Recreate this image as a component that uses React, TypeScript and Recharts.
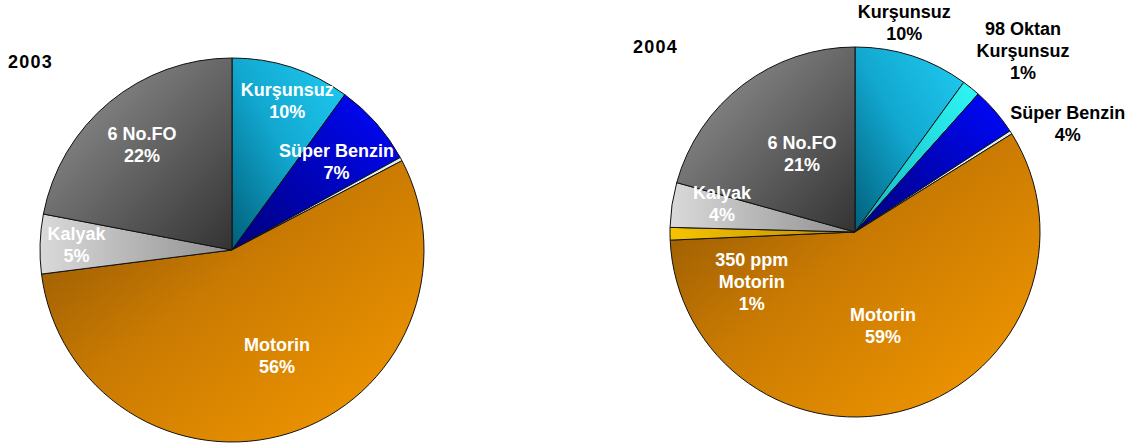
import React from "react";
import { PieChart, Pie, Cell } from "recharts";

// ---- Data ----
const names2003 = ["Kurşunsuz", "Süper Benzin", "", "Motorin", "Kalyak", "6 No.FO"];
const values2003 = [10, 7, 0.3, 55.7, 5, 22];
const pctLabels2003 = ["10%", "7%", "", "56%", "5%", "22%"];

const names2004 = ["Kurşunsuz", "98 Oktan\nKurşunsuz", "Süper Benzin", "", "Motorin", "350 ppm\nMotorin", "Kalyak", "6 No.FO"];
const values2004 = [10, 1.6, 4.2, 0.3, 58.2, 1.1, 3.9, 20.7];
const pctLabels2004 = ["10%", "1%", "4%", "", "59%", "1%", "4%", "21%"];

// ---- Styles ----
const fills2003 = ["url(#gKur)", "url(#gSup)", "#d8eef0", "url(#gMot)", "url(#gKal)", "url(#gFO)"];
const fills2004 = ["url(#gKur)", "url(#g98)", "url(#gSup)", "#d8eef0", "url(#gMot)", "url(#g350)", "url(#gKal)", "url(#gFO)"];
// label placement: [radius factor, angle nudge (deg, clockwise), text color]
const layout2003: [number, number, string][] = [
  [0.83, 2.3, "#fff"], [0.71, 1.4, "#fff"], [0, 0, "#fff"], [0.6, -5.5, "#fff"], [0.81, 0, "#fff"], [0.72, -1, "#fff"],
];
const layout2004: [number, number, string][] = [
  [1.16, -4.7, "#000"], [1.335, 4, "#000"], [1.29, 13.7, "#000"], [0, 0, "#000"],
  [0.53, 0.7, "#fff"], [0.62, -25.2, "#fff"], [0.735, 3.4, "#fff"], [0.51, 3.1, "#fff"],
];

const FONT = "'Liberation Sans', Arial, sans-serif";

const build = (names: string[], values: number[], pcts: string[]) =>
  names.map((n, i) => ({ name: n, value: values[i], pct: pcts[i] }));

const data2003 = build(names2003, values2003, pctLabels2003);
const data2004 = build(names2004, values2004, pctLabels2004);

const makeLabel = (layout: [number, number, string][], data: { name: string; pct: string }[]) => (props: any) => {
  const { cx, cy, midAngle, outerRadius, index } = props;
  const d = data[index];
  if (!d || !d.pct) return null;
  const [rf, da, color] = layout[index];
  const theta = ((90 - midAngle + da) * Math.PI) / 180;
  const R = outerRadius * rf;
  const x = cx + R * Math.sin(theta);
  const y = cy - R * Math.cos(theta);
  const lines = [...d.name.split("\n"), d.pct];
  const lh = 22;
  const y0 = y - ((lines.length - 1) * lh) / 2;
  return (
    <text
      x={x}
      y={y0}
      textAnchor="middle"
      dominantBaseline="central"
      fill={color}
      fontFamily={FONT}
      fontWeight="bold"
      fontSize={18}
    >
      {lines.map((l, i) => (
        <tspan key={i} x={x} y={y0 + i * lh}>
          {l}
        </tspan>
      ))}
    </text>
  );
};

export default function App() {
  return (
    <div style={{ position: "absolute", left: 0, top: 0, width: 1134, height: 445, background: "#fff" }}>
      <PieChart width={1134} height={445} margin={{ top: 0, right: 0, bottom: 0, left: 0 }}>
        <defs>
          <linearGradient id="gMot" x1="0" y1="0" x2="1" y2="1">
            <stop offset="0%" stopColor="#875004" />
            <stop offset="45%" stopColor="#c97a02" />
            <stop offset="100%" stopColor="#f79a00" />
          </linearGradient>
          <linearGradient id="gFO" x1="0" y1="0" x2="1" y2="1">
            <stop offset="0%" stopColor="#9a9a9a" />
            <stop offset="100%" stopColor="#333333" />
          </linearGradient>
          <linearGradient id="gKur" x1="1" y1="0" x2="0" y2="1">
            <stop offset="0%" stopColor="#20ccf2" />
            <stop offset="50%" stopColor="#12a8d0" />
            <stop offset="100%" stopColor="#005f7a" />
          </linearGradient>
          <linearGradient id="gSup" x1="1" y1="0" x2="0" y2="1">
            <stop offset="0%" stopColor="#0008ff" />
            <stop offset="100%" stopColor="#00007a" />
          </linearGradient>
          <linearGradient id="gKal" x1="0" y1="0" x2="1" y2="0">
            <stop offset="0%" stopColor="#dadada" />
            <stop offset="100%" stopColor="#8f8f8f" />
          </linearGradient>
          <linearGradient id="g98" x1="1" y1="0" x2="0" y2="1">
            <stop offset="0%" stopColor="#30f6f6" />
            <stop offset="100%" stopColor="#10b8c0" />
          </linearGradient>
          <linearGradient id="g350" x1="0" y1="0" x2="1" y2="0">
            <stop offset="0%" stopColor="#f5c400" />
            <stop offset="100%" stopColor="#c08c00" />
          </linearGradient>
        </defs>
        <Pie
          data={data2003}
          dataKey="value"
          cx={232}
          cy={250}
          outerRadius={192}
          startAngle={90}
          endAngle={-270}
          stroke="#111"
          strokeWidth={1}
          isAnimationActive={false}
          labelLine={false}
          label={makeLabel(layout2003, data2003)}
        >
          {data2003.map((_, i) => (
            <Cell key={i} fill={fills2003[i]} />
          ))}
        </Pie>
        <Pie
          data={data2004}
          dataKey="value"
          cx={855}
          cy={232}
          outerRadius={185}
          startAngle={90}
          endAngle={-270}
          stroke="#111"
          strokeWidth={1}
          isAnimationActive={false}
          labelLine={false}
          label={makeLabel(layout2004, data2004)}
        >
          {data2004.map((_, i) => (
            <Cell key={i} fill={fills2004[i]} />
          ))}
        </Pie>
      </PieChart>
      <svg width={1134} height={445} style={{ position: "absolute", left: 0, top: 0, pointerEvents: "none" }}>
        <text x={8} y={68} fontFamily={FONT} fontWeight="bold" fontSize={18} letterSpacing={1.2} fill="#000">2003</text>
        <text x={633} y={53} fontFamily={FONT} fontWeight="bold" fontSize={18} letterSpacing={1.2} fill="#000">2004</text>
      </svg>
    </div>
  );
}
